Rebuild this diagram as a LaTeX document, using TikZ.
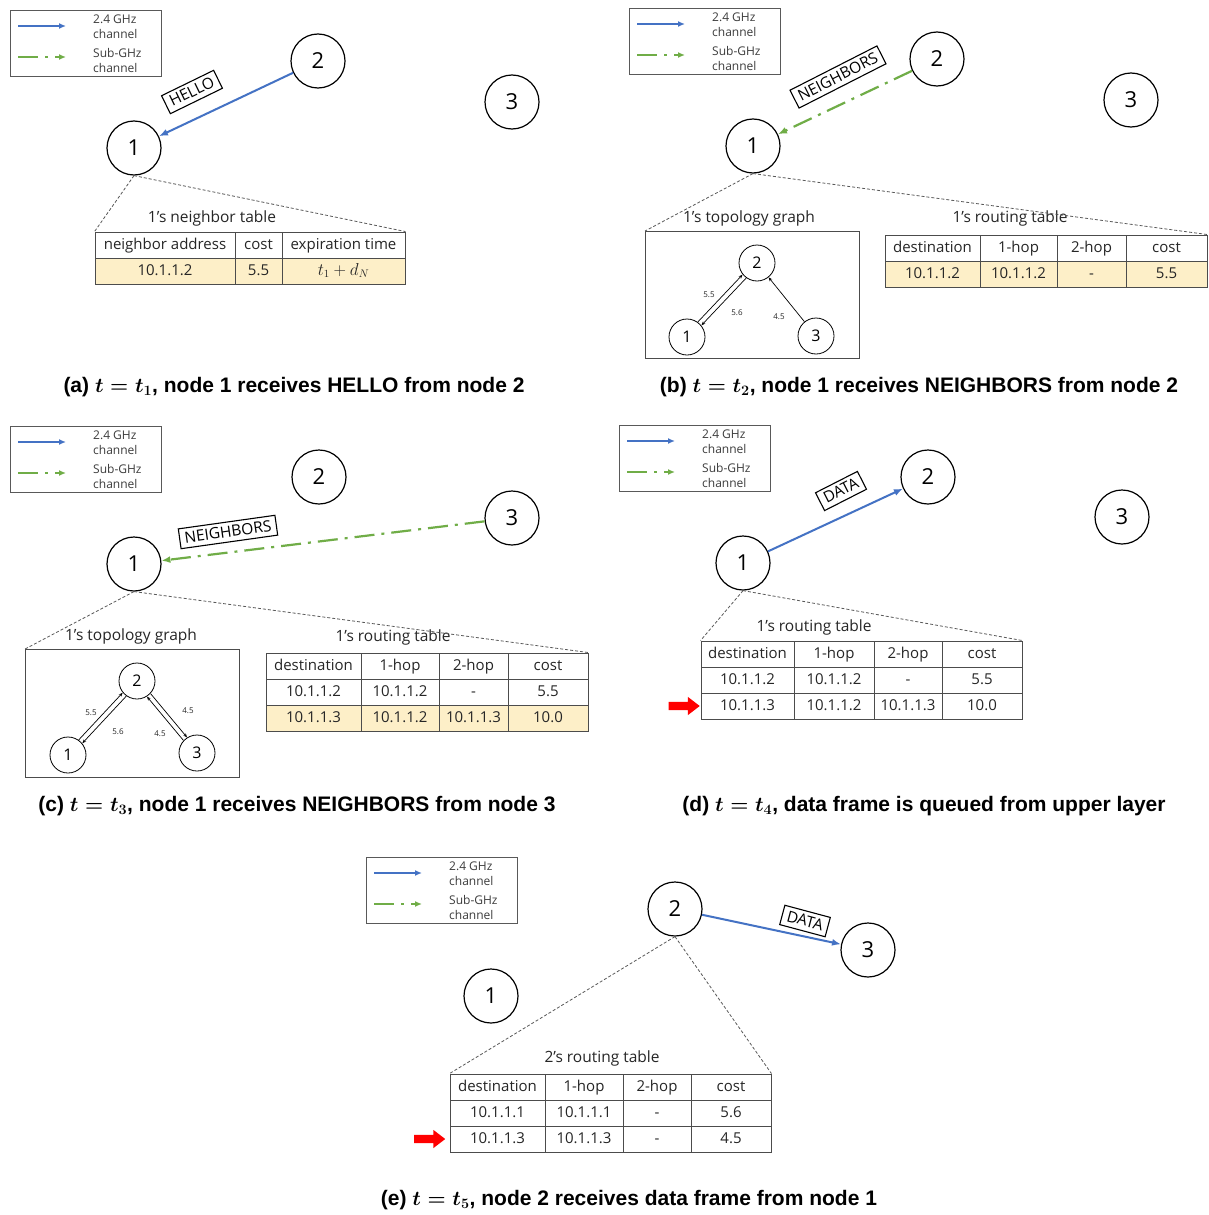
\documentclass[tikz,border=0pt]{standalone}
\usepackage[no-math]{fontspec}
\setmainfont{Open Sans}
\newfontfamily\capfont{Liberation Sans}
\usetikzlibrary{arrows.meta,shapes.arrows,calc}
\definecolor{bl}{HTML}{4472C4}
\definecolor{gr}{HTML}{70AD47}
\definecolor{yl}{HTML}{FDEFC8}
\definecolor{zg}{HTML}{595959}
\definecolor{tx}{HTML}{262626}
\tikzset{
 nd/.style={circle,draw,line width=1.2pt,minimum size=54pt,inner sep=0pt,font=\fontsize{22}{22}\selectfont},
 gnd/.style={circle,draw,line width=0.8pt,minimum size=36pt,inner sep=0pt,font=\fontsize{16}{16}\selectfont},
 blu/.style={draw=bl,line width=2pt,-{Latex[length=9pt,width=7pt]}},
 grn/.style={draw=gr,line width=2.2pt,dash pattern=on 20pt off 7pt on 3pt off 7pt,-{Latex[length=9pt,width=7pt]}},
 lblu/.style={draw=bl,line width=1.6pt,-{Latex[length=7pt,width=6pt]}},
 lgrn/.style={draw=gr,line width=1.8pt,dash pattern=on 20pt off 7pt on 3pt off 7pt,-{Latex[length=7pt,width=6pt]}},
 lbox/.style={draw=black!65,line width=1pt,minimum width=151pt,minimum height=66pt,anchor=north west,inner sep=0pt},
 ltxt/.style={anchor=west,text=tx!90,font=\fontsize{12}{12}\selectfont,inner sep=0pt},
 msg/.style={draw,fill=white,line width=1.1pt,inner xsep=5pt,inner ysep=4pt,text height=11pt,text depth=1pt,font=\fontsize{15.5}{15.5}\selectfont},
 zoomline/.style={draw=zg,line width=0.8pt,dash pattern=on 3pt off 2pt},
 cell/.style={draw=black!70,line width=0.9pt,minimum height=26pt,inner sep=0pt,text height=11pt,text depth=3pt,text=tx,font=\fontsize{15}{15}\selectfont},
 ttl/.style={text=tx,font=\fontsize{15.5}{15.5}\selectfont},
 topo/.style={draw=black!70,line width=0.9pt,anchor=north west,minimum width=214pt,minimum height=127pt,inner sep=0pt},
 captxt/.style={font={\capfont\bfseries\boldmath\fontsize{21}{24}\selectfont}},
 garr/.style={line width=0.7pt,-{Stealth[length=4pt,width=3.2pt]}},
 glbl/.style={text=tx,font=\fontsize{8}{8}\selectfont},
 redarr/.style={single arrow,fill=red,draw=none,minimum height=31pt,inner xsep=0pt,inner ysep=4pt,single arrow head extend=5pt,single arrow tip angle=75}
}
\newcommand\tcell[6]{\node[cell,fill=#5,minimum width={#3pt-#2pt}] (#1) at ({(#2+#3)/2},{#4+13}) {#6};}
\newcommand\lgd[3]{%
 \begin{scope}[shift={(#2,#3)}]
 \node[lbox] (#1box) at (0,0) {};
 \coordinate (#1b1) at (8,16); \coordinate (#1b2) at (56,16);
 \coordinate (#1g1) at (8,47); \coordinate (#1g2) at (56,47);
 \draw[lblu] (#1b1) -- (#1b2);
 \draw[lgrn] (#1g1) -- (#1g2);
 \node[ltxt] (#1t1) at (83,9) {2.4 GHz};
 \node[ltxt] (#1t2) at (83,24) {channel};
 \node[ltxt] (#1t3) at (83,43) {Sub-GHz};
 \node[ltxt] (#1t4) at (83,58) {channel};
 \end{scope}}
\begin{document}
\begin{tikzpicture}[x=1pt,y=-1pt]
\fill[white] (0,0) rectangle (1208,1215);
\path[use as bounding box] (0,0) rectangle (1208,1215);

% ---------------- (a)
\lgd{a-}{10}{10}
\node[nd] (a1) at (134,148) {1};
\node[nd] (a2) at (318,61) {2};
\node[nd] (a3) at (512,102) {3};
\draw[blu] (a2) -- (a1);
\node[msg,rotate=26] (a-msg) at (192,92) {HELLO};
\node[ttl] (a-ttl) at (212,218) {1’s neighbor table};
\tcell{a-h1}{95}{235}{232}{white}{neighbor address}
\tcell{a-h2}{235}{282}{232}{white}{cost}
\tcell{a-h3}{282}{405}{232}{white}{expiration time}
\tcell{a-r1}{95}{235}{258}{yl}{10.1.1.2}
\tcell{a-r2}{235}{282}{258}{yl}{5.5}
\tcell{a-r3}{282}{405}{258}{yl}{\fontsize{16}{16}\selectfont$t_1+d_N$}
\draw[zoomline] (a1.south) -- (a-h1.north west);
\draw[zoomline] (a1.south) -- (a-h3.north east);
\node[captxt] (a-cap) at (294,387) {(a) $t=t_1$, node 1 receives HELLO from node 2};

% ---------------- (b)
\lgd{b-}{629}{8}
\node[nd] (b1) at (753,146) {1};
\node[nd] (b2) at (937,59) {2};
\node[nd] (b3) at (1131,100) {3};
\draw[grn] (b2) -- (b1);
\node[msg,rotate=27] (b-msg) at (838,77) {NEIGHBORS};
\node[ttl] (b-ttl1) at (749,218) {1’s topology graph};
\node[topo] (b-topo) at (645,231) {};
\node[gnd] (b-g2) at (757,263) {2};
\node[gnd] (b-g1) at (687,337) {1};
\node[gnd] (b-g3) at (816,336) {3};
\draw[garr,transform canvas={xshift=-1.8pt,yshift=1.7pt}] (b-g1) -- (b-g2);
\draw[garr,transform canvas={xshift=1.8pt,yshift=-1.7pt}] (b-g2) -- (b-g1);
\draw[garr] (b-g3) -- (b-g2);
\node[glbl] (b-l1) at (709,295) {5.5};
\node[glbl] (b-l2) at (737,313) {5.6};
\node[glbl] (b-l3) at (779,317) {4.5};
\node[ttl] (b-ttl2) at (1010,218) {1’s routing table};
\tcell{b-h1}{885}{980}{235}{white}{destination}
\tcell{b-h2}{980}{1057}{235}{white}{1-hop}
\tcell{b-h3}{1057}{1126}{235}{white}{2-hop}
\tcell{b-h4}{1126}{1207}{235}{white}{cost}
\tcell{b-r1}{885}{980}{261}{yl}{10.1.1.2}
\tcell{b-r2}{980}{1057}{261}{yl}{10.1.1.2}
\tcell{b-r3}{1057}{1126}{261}{yl}{-}
\tcell{b-r4}{1126}{1207}{261}{yl}{5.5}
\draw[zoomline] (b1.south) -- (b-topo.north west);
\draw[zoomline] (b1.south) -- (b-h4.north east);
\node[captxt] (b-cap) at (919,387) {(b) $t=t_2$, node 1 receives NEIGHBORS from node 2};

% ---------------- (c)
\lgd{c-}{10}{426}
\node[nd] (c1) at (134,564) {1};
\node[nd] (c2) at (319,477) {2};
\node[nd] (c3) at (512,518) {3};
\draw[grn] (c3) -- (c1);
\node[msg,rotate=8] (c-msg) at (228,532) {NEIGHBORS};
\node[ttl] (c-ttl1) at (131,636) {1’s topology graph};
\node[topo,minimum height=128pt] (c-topo) at (25,649) {};
\node[gnd] (c-g2) at (137,681) {2};
\node[gnd] (c-g1) at (68,755) {1};
\node[gnd] (c-g3) at (197,753) {3};
\draw[garr,transform canvas={xshift=-1.8pt,yshift=1.7pt}] (c-g1) -- (c-g2);
\draw[garr,transform canvas={xshift=1.8pt,yshift=-1.7pt}] (c-g2) -- (c-g1);
\draw[garr,transform canvas={xshift=1.8pt,yshift=1.5pt}] (c-g2) -- (c-g3);
\draw[garr,transform canvas={xshift=-1.8pt,yshift=-1.5pt}] (c-g3) -- (c-g2);
\node[glbl] (c-l1) at (91,713) {5.5};
\node[glbl] (c-l2) at (118,732) {5.6};
\node[glbl] (c-l3) at (188,711) {4.5};
\node[glbl] (c-l4) at (160,734) {4.5};
\node[ttl] (c-ttl2) at (393,637) {1’s routing table};
\tcell{c-h1}{266}{361}{653}{white}{destination}
\tcell{c-h2}{361}{439}{653}{white}{1-hop}
\tcell{c-h3}{439}{508}{653}{white}{2-hop}
\tcell{c-h4}{508}{588}{653}{white}{cost}
\tcell{c-r1}{266}{361}{679}{white}{10.1.1.2}
\tcell{c-r2}{361}{439}{679}{white}{10.1.1.2}
\tcell{c-r3}{439}{508}{679}{white}{-}
\tcell{c-r4}{508}{588}{679}{white}{5.5}
\tcell{c-s1}{266}{361}{705}{yl}{10.1.1.3}
\tcell{c-s2}{361}{439}{705}{yl}{10.1.1.2}
\tcell{c-s3}{439}{508}{705}{yl}{10.1.1.3}
\tcell{c-s4}{508}{588}{705}{yl}{10.0}
\draw[zoomline] (c1.south) -- (c-topo.north west);
\draw[zoomline] (c1.south) -- (c-h4.north east);
\node[captxt] (c-cap) at (297,806) {(c) $t=t_3$, node 1 receives NEIGHBORS from node 3};

% ---------------- (d)
\lgd{d-}{619}{425}
\node[nd] (d1) at (743,563) {1};
\node[nd] (d2) at (928,477) {2};
\node[nd] (d3) at (1122,517) {3};
\draw[blu] (d1) -- (d2);
\node[msg,rotate=27] (d-msg) at (841,491) {DATA};
\node[ttl] (d-ttl) at (814,627) {1’s routing table};
\tcell{d-h1}{701}{794}{641}{white}{destination}
\tcell{d-h2}{794}{874}{641}{white}{1-hop}
\tcell{d-h3}{874}{942}{641}{white}{2-hop}
\tcell{d-h4}{942}{1022}{641}{white}{cost}
\tcell{d-r1}{701}{794}{667}{white}{10.1.1.2}
\tcell{d-r2}{794}{874}{667}{white}{10.1.1.2}
\tcell{d-r3}{874}{942}{667}{white}{-}
\tcell{d-r4}{942}{1022}{667}{white}{5.5}
\tcell{d-s1}{701}{794}{693}{white}{10.1.1.3}
\tcell{d-s2}{794}{874}{693}{white}{10.1.1.2}
\tcell{d-s3}{874}{942}{693}{white}{10.1.1.3}
\tcell{d-s4}{942}{1022}{693}{white}{10.0}
\node[redarr] (d-red) at (681.5,706) {};
\draw[zoomline] (d1.south) -- (d-h1.north west);
\draw[zoomline] (d1.south) -- (d-h4.north east);
\node[captxt] (d-cap) at (924,806) {(d) $t=t_4$, data frame is queued from upper layer};

% ---------------- (e)
\lgd{e-}{366}{857}
\node[nd] (e1) at (491,996) {1};
\node[nd] (e2) at (675,909) {2};
\node[nd] (e3) at (868,950) {3};
\draw[blu] (e2) -- (e3);
\node[msg,rotate=-15] (e-msg) at (805,921) {DATA};
\node[ttl] (e-ttl) at (602,1058) {2’s routing table};
\tcell{e-h1}{450}{545}{1074}{white}{destination}
\tcell{e-h2}{545}{623}{1074}{white}{1-hop}
\tcell{e-h3}{623}{691}{1074}{white}{2-hop}
\tcell{e-h4}{691}{771}{1074}{white}{cost}
\tcell{e-r1}{450}{545}{1100}{white}{10.1.1.1}
\tcell{e-r2}{545}{623}{1100}{white}{10.1.1.1}
\tcell{e-r3}{623}{691}{1100}{white}{-}
\tcell{e-r4}{691}{771}{1100}{white}{5.6}
\tcell{e-s1}{450}{545}{1126}{white}{10.1.1.3}
\tcell{e-s2}{545}{623}{1126}{white}{10.1.1.3}
\tcell{e-s3}{623}{691}{1126}{white}{-}
\tcell{e-s4}{691}{771}{1126}{white}{4.5}
\node[redarr] (e-red) at (427,1139) {};
\draw[zoomline] (e2.south) -- (e-h1.north west);
\draw[zoomline] (e2.south) -- (e-h4.north east);
\node[captxt] (e-cap) at (629,1200) {(e) $t=t_5$, node 2 receives data frame from node 1};
\end{tikzpicture}
\end{document}
